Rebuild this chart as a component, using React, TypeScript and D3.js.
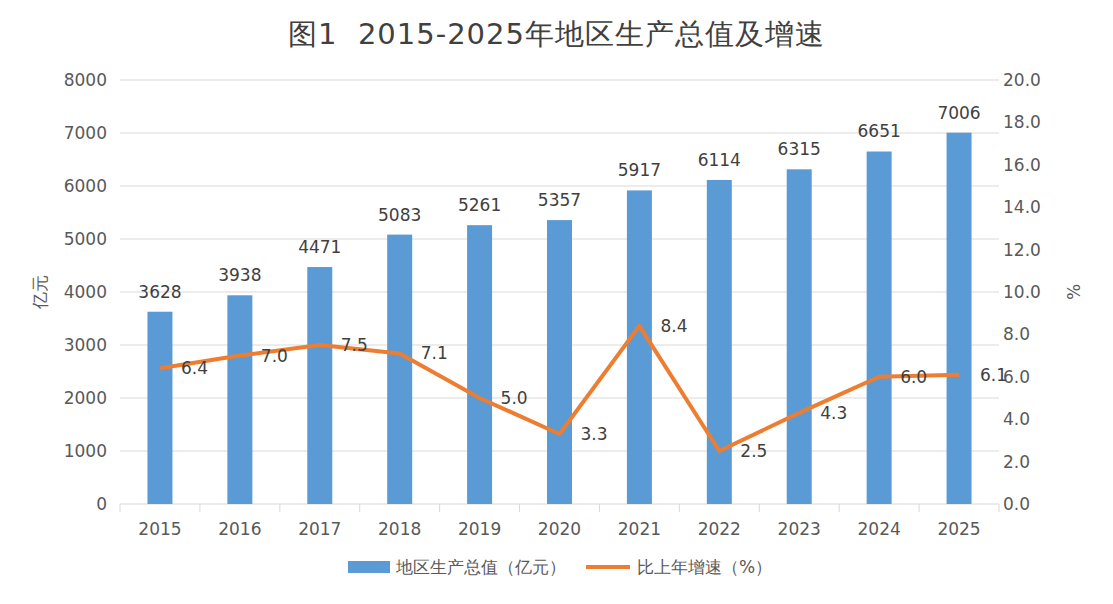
import { useEffect, useRef } from 'react'
import * as d3 from 'd3'

const years = ['2015', '2016', '2017', '2018', '2019', '2020', '2021', '2022', '2023', '2024', '2025']
const gdp = [3628, 3938, 4471, 5083, 5261, 5357, 5917, 6114, 6315, 6651, 7006]
const growth = [6.4, 7.0, 7.5, 7.1, 5.0, 3.3, 8.4, 2.5, 4.3, 6.0, 6.1]
const leftTicks = [0, 1000, 2000, 3000, 4000, 5000, 6000, 7000, 8000]
const rightTicks = [0, 2, 4, 6, 8, 10, 12, 14, 16, 18, 20]

export default function App() {
  const svgRef = useRef<SVGSVGElement>(null)

  useEffect(() => {
    if (!svgRef.current) return
    const svg = d3.select(svgRef.current)
    svg.selectAll('*').remove()

    const W = 1113, H = 604
    const left = 120, right = 999, top = 80, bottom = 504
    const font = 'DejaVu Sans, sans-serif'
    const textColor = '#595959'

    svg.append('rect').attr('x', 1).attr('y', 1).attr('width', W - 2).attr('height', H - 2)
      .attr('fill', '#fff').attr('stroke', '#bfbfbf').attr('stroke-width', 1.5)

    const x = d3.scaleBand().domain(years).range([left, right])
    const yL = d3.scaleLinear().domain([0, 8000]).range([bottom, top])
    const yR = d3.scaleLinear().domain([0, 20]).range([bottom, top])

    const g = svg.append('g').style('font-family', font)

    g.append('text').attr('x', W / 2).attr('y', 44).attr('text-anchor', 'middle')
      .style('font-size', '29px').style('letter-spacing', '1px').attr('fill', '#404040')
      .text('图1  2015-2025年地区生产总值及增速').attr('xml:space', 'preserve')

    // grid
    g.selectAll('.grid').data(leftTicks).enter().append('line')
      .attr('x1', left).attr('x2', right).attr('y1', d => yL(d)).attr('y2', d => yL(d))
      .attr('stroke', '#d9d9d9').attr('stroke-width', 1)

    // x axis ticks
    g.selectAll('.xt').data(d3.range(years.length + 1)).enter().append('line')
      .attr('x1', i => left + i * x.step()).attr('x2', i => left + i * x.step())
      .attr('y1', bottom).attr('y2', bottom + 8).attr('stroke', '#d9d9d9')

    g.selectAll('.xl').data(years).enter().append('text')
      .attr('x', d => x(d)! + x.bandwidth() / 2).attr('y', bottom + 31)
      .attr('text-anchor', 'middle').style('font-size', '17px').attr('fill', textColor).text(d => d)

    g.selectAll('.yl').data(leftTicks).enter().append('text')
      .attr('x', 107).attr('y', d => yL(d) + 6).attr('text-anchor', 'end')
      .style('font-size', '17px').attr('fill', textColor).text(d => d)

    g.selectAll('.yr').data(rightTicks).enter().append('text')
      .attr('x', 1003).attr('y', d => yR(d) + 6).attr('text-anchor', 'start')
      .style('font-size', '17px').attr('fill', textColor).text(d => d.toFixed(1))

    g.append('text').attr('transform', `translate(46,${(top + bottom) / 2}) rotate(-90)`)
      .attr('text-anchor', 'middle').style('font-size', '17px').attr('fill', textColor).text('亿元')
    g.append('text').attr('transform', `translate(1080,${(top + bottom) / 2}) rotate(-90)`)
      .attr('text-anchor', 'middle').style('font-size', '17px').attr('fill', textColor).text('%')

    const bw = 25
    g.selectAll('.bar').data(gdp).enter().append('rect')
      .attr('x', (_, i) => x(years[i])! + x.bandwidth() / 2 - bw / 2)
      .attr('y', d => yL(d)).attr('width', bw).attr('height', d => bottom - yL(d))
      .attr('fill', '#5b9bd5')

    g.selectAll('.bl').data(gdp).enter().append('text')
      .attr('x', (_, i) => x(years[i])! + x.bandwidth() / 2).attr('y', d => yL(d) - 14)
      .attr('text-anchor', 'middle').style('font-size', '17px').attr('fill', '#404040').text(d => d)

    const line = d3.line<number>()
      .x((_, i) => x(years[i])! + x.bandwidth() / 2).y(d => yR(d))
    g.append('path').datum(growth).attr('d', line).attr('fill', 'none')
      .attr('stroke', '#ed7d31').attr('stroke-width', 4).attr('stroke-linejoin', 'round')

    g.selectAll('.ll').data(growth).enter().append('text')
      .attr('x', (_, i) => x(years[i])! + x.bandwidth() / 2 + 21).attr('y', d => yR(d) + 6)
      .style('font-size', '17px').attr('fill', '#404040').text(d => d.toFixed(1))

    // legend
    g.append('rect').attr('x', 348).attr('y', 561).attr('width', 42).attr('height', 12).attr('fill', '#5b9bd5')
    g.append('text').attr('x', 396).attr('y', 573).style('font-size', '17px').attr('fill', textColor)
      .text('地区生产总值（亿元）')
    g.append('line').attr('x1', 586).attr('x2', 630).attr('y1', 567).attr('y2', 567)
      .attr('stroke', '#ed7d31').attr('stroke-width', 4)
    g.append('text').attr('x', 637).attr('y', 573).style('font-size', '17px').attr('fill', textColor)
      .text('比上年增速（%）')
  }, [])

  return <svg ref={svgRef} width={1113} height={604} style={{ display: 'block', margin: -8 }} />
}
